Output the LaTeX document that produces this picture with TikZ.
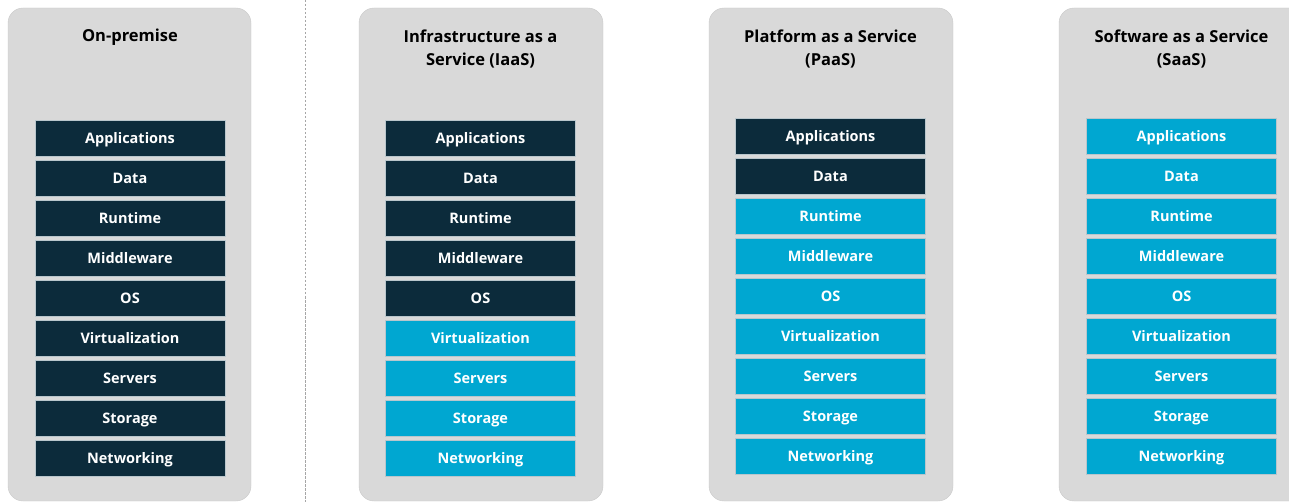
\documentclass[tikz,border=0pt]{standalone}
\usepackage{fontspec}
\setmainfont{Open Sans}
\usepackage{xcolor}
\definecolor{navy}{HTML}{0C2B3B}
\definecolor{cyanlayer}{HTML}{00A7D1}
\definecolor{panelgray}{HTML}{D9D9D9}
\definecolor{panelline}{HTML}{C9C9C9}
\definecolor{layerline}{HTML}{B9C6CC}

\begin{document}
\begin{tikzpicture}[x=1pt,y=-1pt]
    \useasboundingbox (0,0) rectangle (1289,502);
    \clip (0,0) rectangle (1289,502);

    % panels
    \begin{scope}[every path/.style={fill=panelgray,draw=panelline,rounded corners=15pt}]
      \path (8,8) rectangle (251,501);
      \path (359,8) rectangle (603,501);
      \path (709,8) rectangle (953,501);
      \path (1059,8) rectangle (1310,501);
    \end{scope}

    % divider
    \coordinate (divtop) at (305,0);
    \coordinate (divbot) at (305,502);
    \draw [gray!70,line width=1pt,dash pattern=on 2.5pt off 1.5pt] (divtop) -- (divbot);

    % titles
    \begin{scope}[every node/.style={align=center,font=\fontsize{16.5}{23}\selectfont\bfseries}]
      \node (t1) at (130,37.5) {On-premise};
      \node (t2) at (480.5,49) {Infrastructure as a\\Service (IaaS)};
      \node (t3) at (830.5,49) {Platform as a Service\\(PaaS)};
      \node (t4) at (1181.5,49) {Software as a Service\\(SaaS)};
    \end{scope}

    % layers
    \begin{scope}[every node/.style={draw=layerline,line width=0.6pt,minimum width=190pt,minimum height=36pt,inner sep=0pt,text height=12.5pt,text depth=1.5pt,text=white,font=\fontsize{14.5}{14.5}\selectfont\bfseries}]
      \foreach \name [count=\i from 0] in {Applications,Data,Runtime,Middleware,OS,Virtualization,Servers,Storage,Networking} {
        \pgfmathsetmacro{\ya}{138+40*\i}
        \pgfmathsetmacro{\yb}{136+40*\i}
        \node [fill=navy] (on\i) at (130,\ya) {\name};
        \ifnum\i<5
          \node [fill=navy] (iaas\i) at (480.5,\ya) {\name};
        \else
          \node [fill=cyanlayer] (iaas\i) at (480.5,\ya) {\name};
        \fi
        \ifnum\i<2
          \node [fill=navy] (paas\i) at (830.5,\yb) {\name};
        \else
          \node [fill=cyanlayer] (paas\i) at (830.5,\yb) {\name};
        \fi
        \node [fill=cyanlayer] (saas\i) at (1181.5,\yb) {\name};
      }
    \end{scope}
\end{tikzpicture}
\end{document}
